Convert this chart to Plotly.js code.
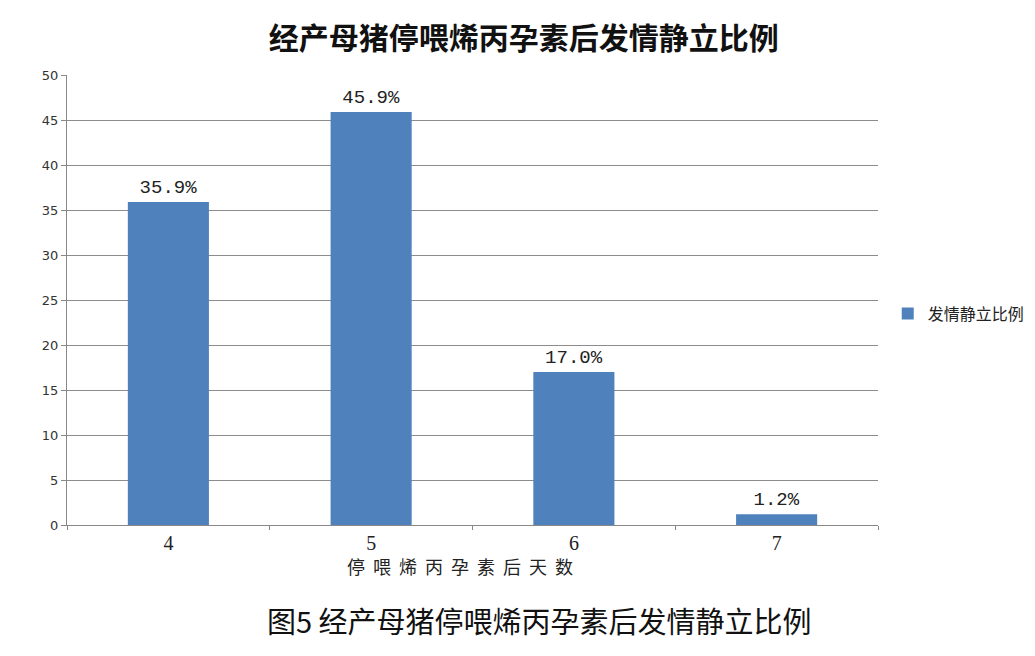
<!DOCTYPE html>
<html>
<head>
<meta charset="utf-8">
<script src="https://cdn.plot.ly/plotly-3.0.1.min.js"></script>
<style>
  body { margin: 0; background: #fff; }
  #chart { width: 1035px; height: 656px; }
  .textpoint text { letter-spacing: 3px; }
  .annotation-text.spaced { letter-spacing: 8px; }
</style>
</head>
<body>
<div id="chart"></div>
<script>
var days = ['4', '5', '6', '7']
var rates = [35.9, 45.9, 17.0, 1.2]
var seriesName = '发情静立比例'
var chartTitle = '经产母猪停喂烯丙孕素后发情静立比例'
var xTitle = '停喂烯丙孕素后天数'
var caption = '图5 经产母猪停喂烯丙孕素后发情静立比例'

var cjk = '"Noto Sans CJK SC", "Noto Sans", sans-serif'

var data = [{
  x: days,
  y: rates,
  name: seriesName,
  type: 'bar',
  width: 0.4,
  marker: { color: '#4f81bd' },
  text: rates.map(function (v) { return v.toFixed(1) + '%' }),
  textposition: 'outside',
  textfont: { family: '"Liberation Mono", monospace', size: 19, color: '#222' },
  cliponaxis: false,
  showlegend: true
}]

var layout = {
  width: 1035,
  height: 656,
  margin: { l: 67, r: 157, t: 75, b: 131, autoexpand: false },
  paper_bgcolor: '#fff',
  plot_bgcolor: '#fff',
  title: {
    text: '<b>' + chartTitle + '</b>',
    font: { family: cjk, size: 30, color: '#111' },
    xref: 'container',
    x: 0.506,
    y: 0.958
  },
  xaxis: {
    type: 'category',
    tickson: 'boundaries',
    ticks: 'outside',
    ticklen: 4,
    tickcolor: '#888',
    showline: true,
    linecolor: '#888',
    showgrid: false,
    tickfont: { family: '"Liberation Serif", serif', size: 20, color: '#222' }
  },
  yaxis: {
    range: [0, 50],
    dtick: 5,
    ticks: 'outside',
    ticklen: 5,
    tickcolor: '#888',
    showline: true,
    linecolor: '#888',
    gridcolor: '#8c8c8c',
    zeroline: false,
    tickfont: { family: '"DejaVu Sans", sans-serif', size: 13, color: '#333' }
  },
  legend: {
    x: 1.012,
    y: 0.47,
    xanchor: 'left',
    yanchor: 'middle',
    font: { family: cjk, size: 16, color: '#222' }
  },
  annotations: [
    {
      text: xTitle,
      xref: 'paper', yref: 'paper',
      x: 0.49, y: -0.09,
      xanchor: 'center', yanchor: 'middle',
      showarrow: false,
      font: { family: cjk, size: 18, color: '#222' }
    },
    {
      text: caption,
      xref: 'paper', yref: 'paper',
      x: 0.583, y: -0.21,
      xanchor: 'center', yanchor: 'middle',
      showarrow: false,
      font: { family: cjk, size: 29, color: '#111' }
    }
  ]
}

Plotly.newPlot('chart', data, layout, { displayModeBar: false }).then(function () {
  var ann = document.querySelectorAll('.annotation-text')
  if (ann.length) ann[0].classList.add('spaced')
})
</script>
</body>
</html>
